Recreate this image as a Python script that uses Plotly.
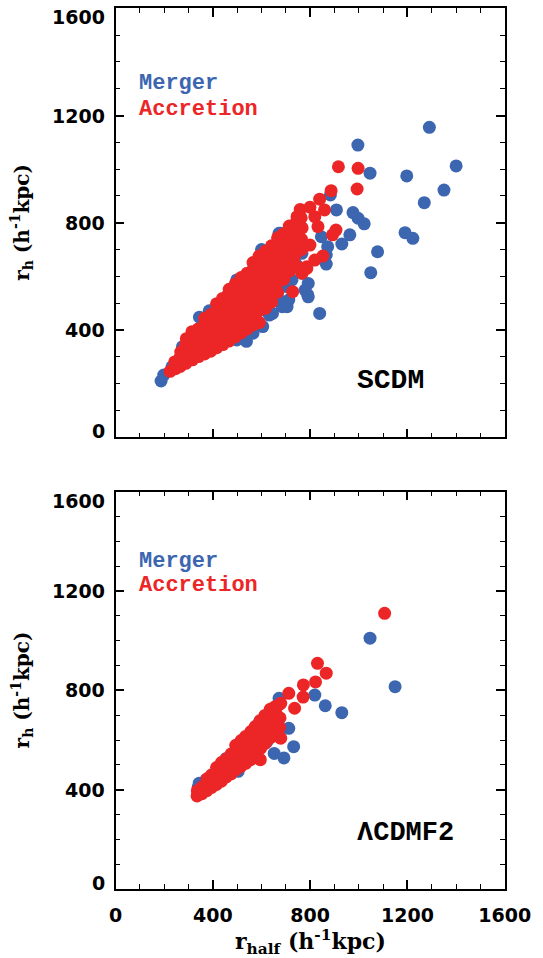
import plotly.graph_objects as go

# ---------------- data: (r_half, r_h) in h^-1 kpc ----------------
scdm_merger = [
    (1290, 1156), (996, 1090), (1400, 1012), (1046, 985), (1197, 975), (1350, 922),
    (1269, 875), (883, 904), (908, 848), (976, 838), (997, 817), (1022, 796),
    (1190, 763), (1222, 742), (963, 755), (930, 721), (1077, 692), (1049, 614),
    (839, 462), (866, 646), (866, 680), (872, 711), (679, 761), (792, 574),
    (790, 531), (752, 636), (725, 649), (705, 562), (665, 537), (685, 506),
    (705, 487), (632, 456), (846, 748), (498, 587), (187, 210), (198, 232),
    (232, 263), (260, 288), (316, 326), (365, 326), (431, 351), (448, 363),
    (498, 363), (538, 358), (565, 388), (605, 413), (645, 462), (632, 524),
    (672, 562), (685, 487), (712, 512), (725, 587), (766, 612), (779, 549),
    (792, 524), (739, 649), (766, 686), (275, 338), (345, 448), (385, 472),
    (672, 761), (600, 700),
]

scdm_accretion = [
    (224, 246),
    (246, 256), (243, 281),
    (266, 264), (264, 296), (268, 318),
    (289, 276), (292, 309), (288, 344), (291, 368),
    (316, 289), (313, 326), (317, 358), (314, 394),
    (341, 301), (338, 336), (342, 369), (339, 404),
    (366, 311), (364, 346), (367, 379), (363, 416), (366, 444),
    (391, 321), (389, 356), (392, 388), (388, 426), (391, 458),
    (416, 334), (414, 371), (417, 404), (413, 441), (416, 474), (415, 498),
    (441, 346), (439, 379), (442, 416), (438, 449), (441, 486), (440, 518),
    (466, 359), (464, 396), (467, 429), (463, 466), (466, 499), (464, 534), (467, 552),
    (491, 374), (489, 411), (492, 444), (488, 481), (491, 514), (489, 549), (492, 572),
    (516, 389), (514, 426), (517, 459), (513, 496), (516, 529), (514, 566), (516, 596),
    (541, 404), (539, 441), (542, 474), (538, 511), (541, 544), (539, 581), (541, 612),
    (566, 419), (564, 456), (567, 489), (563, 526), (566, 559), (564, 596), (566, 628), (565, 652),
    (591, 428), (589, 471), (592, 504), (588, 541), (591, 574), (589, 611), (591, 644), (590, 676),
    (616, 481), (614, 519), (617, 556), (613, 589), (616, 626), (614, 659), (616, 694),
    (641, 504), (639, 546), (642, 579), (638, 616), (641, 649), (639, 686), (641, 714),
    (666, 541), (664, 574), (667, 611), (663, 644), (666, 681), (664, 714), (666, 744),
    (691, 589), (689, 626), (692, 659), (688, 696), (691, 729), (689, 758),
    (716, 621), (714, 654), (717, 691), (713, 724), (716, 761), (714, 788),
    (741, 641), (739, 681), (742, 719), (738, 761), (741, 799),
    (766, 701), (764, 739), (767, 781), (763, 818),
    (916, 1009), (997, 1003), (993, 926), (886, 920), (839, 888), (799, 858),
    (759, 850), (859, 848), (746, 823), (819, 823), (832, 786), (906, 773),
    (892, 755), (799, 717), (852, 676), (819, 661), (786, 636), (766, 612),
    (709, 618), (728, 543), (786, 630),
]

lcdm_merger = [
    (1046, 1010), (1149, 815), (930, 710), (819, 781), (862, 738), (712, 647),
    (732, 573), (652, 546), (692, 528), (592, 674), (672, 768), (622, 593),
    (504, 474), (455, 526), (344, 426), (371, 439), (340, 410),
]

lcdm_accretion = [
    (335, 375), (336, 396),
    (355, 384), (356, 411),
    (375, 396), (374, 421), (376, 444),
    (395, 409), (396, 436), (394, 459),
    (415, 421), (414, 446), (416, 469), (415, 489),
    (435, 434), (436, 461), (434, 484), (435, 509),
    (455, 451), (454, 474), (456, 501), (455, 524),
    (475, 464), (476, 491), (474, 514), (475, 544),
    (495, 481), (494, 504), (496, 531), (495, 559), (494, 579),
    (515, 494), (516, 521), (514, 544), (515, 574), (516, 598),
    (535, 506), (534, 534), (536, 561), (535, 589), (534, 614),
    (555, 521), (556, 549), (554, 576), (555, 604), (556, 634),
    (575, 544), (574, 571), (576, 599), (575, 629), (574, 654),
    (595, 521), (596, 566), (594, 594), (595, 626), (596, 659), (595, 679),
    (615, 586), (614, 614), (616, 646), (615, 674), (614, 699),
    (635, 609), (636, 641), (634, 669), (635, 701), (636, 724),
    (655, 641), (654, 669), (656, 701), (655, 734),
    (675, 611), (674, 651), (676, 689), (675, 744),
    (1106, 1110), (830, 909), (866, 869), (822, 834), (772, 822), (771, 773),
    (712, 788), (736, 728), (679, 748), (659, 708), (645, 667), (679, 607),
    (612, 654),
]

axis_ticks = [0, 400, 800, 1200, 1600]
panel_labels = ["SCDM", "\u039bCDMF2"]

BLUE = "#3D66B0"
RED = "#EC2627"

# plot-area domains (paper fractions)
X_DOM = [115.6 / 543, 530.0 / 543]
TOP_DOM = [1 - 437.3 / 958, 1 - 8.3 / 958]
BOT_DOM = [1 - 889.0 / 958, 1 - 491.7 / 958]

fig = go.Figure()


def add_points(pts, color, xa, ya):
    fig.add_trace(go.Scatter(
        x=[p[0] for p in pts], y=[p[1] for p in pts], mode="markers",
        marker=dict(size=13, color=color, line=dict(width=0)),
        xaxis=xa, yaxis=ya, hoverinfo="skip",
    ))


add_points(scdm_merger, BLUE, "x", "y")
add_points(scdm_accretion, RED, "x", "y")
add_points(lcdm_merger, BLUE, "x2", "y2")
add_points(lcdm_accretion, RED, "x2", "y2")

tick_font = dict(family="DejaVu Sans", size=19, color="black", weight="bold")


def axis(domain, anchor, show_labels):
    return dict(
        domain=domain, anchor=anchor, range=[0, 1600],
        tickmode="array", tickvals=axis_ticks,
        ticks="inside", ticklen=9, tickwidth=1.5, tickcolor="black",
        showline=True, linewidth=1.5, linecolor="black", mirror="ticks",
        showgrid=False, zeroline=False, showticklabels=show_labels,
        tickfont=tick_font, ticklabelstandoff=8, ticklabeloverflow="allow",
        minor=dict(dtick=100, tick0=0, ticks="inside", ticklen=5,
                   tickwidth=1.2, tickcolor="black", showgrid=False),
    )


fig.update_layout(
    width=543, height=958,
    margin=dict(l=0, r=0, t=0, b=0),
    paper_bgcolor="white", plot_bgcolor="white",
    showlegend=False,
    xaxis=axis(X_DOM, "y", False),
    yaxis=axis(TOP_DOM, "x", False),
    xaxis2=axis(X_DOM, "y2", True),
    yaxis2=axis(BOT_DOM, "x2", False),
)

ann = []
ytitle_font = dict(family="DejaVu Serif", size=20, color="black", weight="bold")
xtitle_font = dict(family="DejaVu Serif", size=22, color="black", weight="bold")
legend_font = dict(family="Liberation Mono", size=22, weight="bold")

panels = [
    ("x", "y", TOP_DOM, panel_labels[0], 212, 28),
    ("x2", "y2", BOT_DOM, panel_labels[1], 225, 27),
]
for xref, yref, dom, label, label_y, label_size in panels:
    # y tick labels, end labels nudged inside the frame
    for v in axis_ticks:
        shift = -9 if v == 1600 else (6 if v == 0 else 0)
        ann.append(dict(x=X_DOM[0], xref="paper", y=v, yref=yref, text=str(v),
                        xanchor="right", yanchor="middle", xshift=-9, yshift=shift,
                        showarrow=False, font=tick_font))
    # y-axis title
    ann.append(dict(x=16 / 543, xref="paper", y=(dom[0] + dom[1]) / 2, yref="paper",
                    text="r<sub>h</sub> (h<sup>-1</sup>kpc)", textangle=-90,
                    xanchor="center", yanchor="middle", showarrow=False, font=ytitle_font))
    # legend text
    ann.append(dict(x=88, xref=xref, y=1318, yref=yref, text="Merger",
                    xanchor="left", yanchor="middle", showarrow=False,
                    font=dict(legend_font, color=BLUE)))
    ann.append(dict(x=88, xref=xref, y=1222, yref=yref, text="Accretion",
                    xanchor="left", yanchor="middle", showarrow=False,
                    font=dict(legend_font, color=RED)))
    # model label
    ann.append(dict(x=985, xref=xref, y=label_y, yref=yref, text=label,
                    xanchor="left", yanchor="middle", showarrow=False,
                    font=dict(family="Liberation Mono", size=label_size,
                              color="black", weight="bold")))

# x-axis title
ann.append(dict(x=(X_DOM[0] + X_DOM[1]) / 2, xref="paper", y=1 - 942 / 958, yref="paper",
                text="r<sub>half</sub> (h<sup>-1</sup>kpc)", xanchor="center",
                yanchor="middle", showarrow=False, font=xtitle_font))

fig.update_layout(annotations=ann)
fig.write_html("out.html")
